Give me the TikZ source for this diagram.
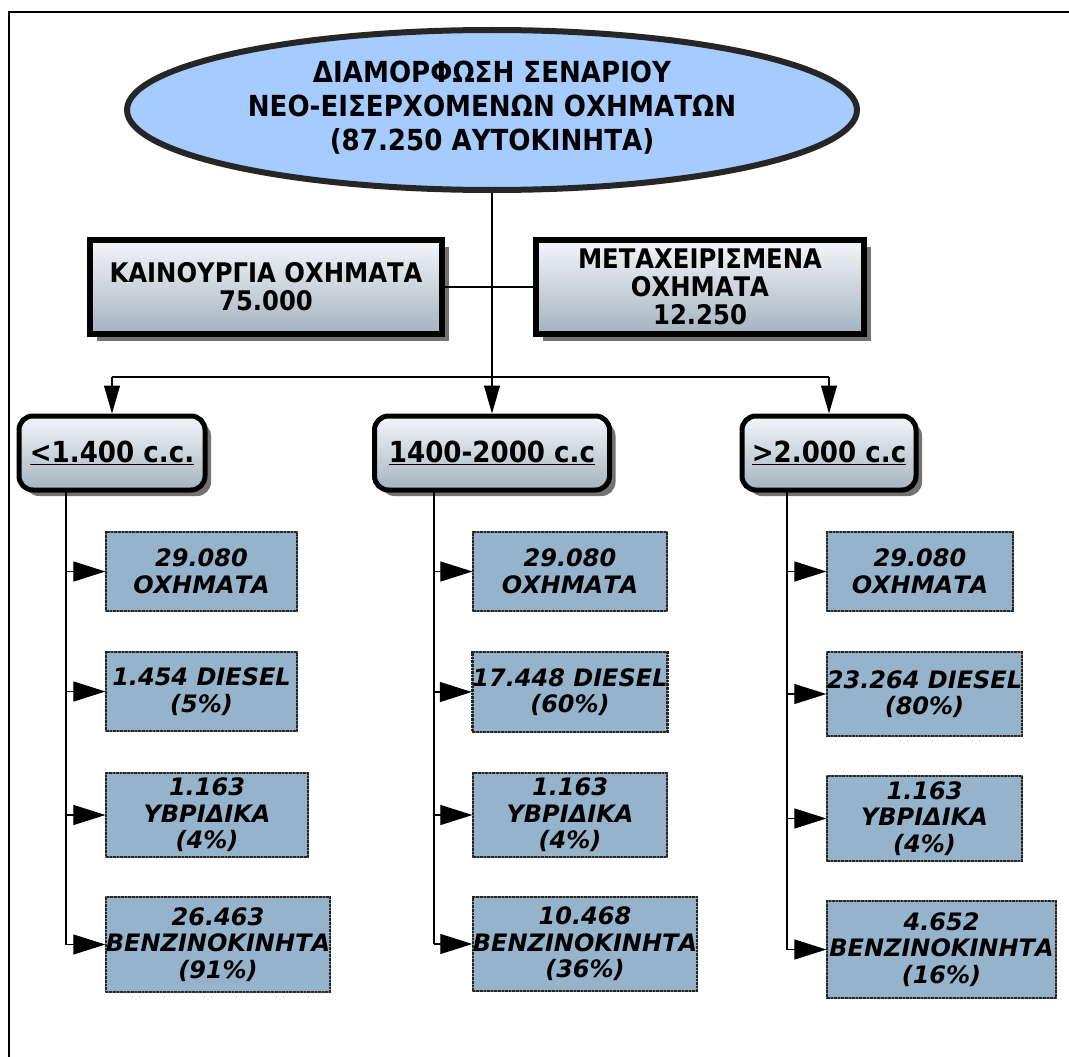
\documentclass[tikz,border=0pt]{standalone}
\usepackage{fontspec}
\setmainfont{DejaVu Sans}
\newfontfamily\tah[FakeStretch=0.9]{DejaVu Sans}
\usetikzlibrary{shapes.geometric,arrows.meta,shadows}
\definecolor{ellblue}{HTML}{A6CCFF}
\definecolor{boxblue}{HTML}{95B4CC}
\definecolor{gtop}{HTML}{F4F6F9}
\definecolor{gbot}{HTML}{A4B3BF}
\begin{document}
\begin{tikzpicture}[x=1pt,y=-1pt,
  ellnode/.style={ellipse, fill=ellblue, draw=black!85, line width=6pt, inner sep=0pt,
    minimum width=730pt, minimum height=160pt, align=center,
    font=\tah\bfseries\fontsize{29}{34}\selectfont},
  topbox/.style={rectangle, draw=black, line width=6pt, top color=gtop, bottom color=gbot,
    inner sep=0pt, align=center, font=\tah\bfseries\fontsize{27}{28}\selectfont,
    drop shadow={shadow xshift=7pt, shadow yshift=-7pt, opacity=0.55, fill=black}},
  catbox/.style={rectangle, rounded corners=14pt, draw=black, line width=5pt,
    top color=gtop, bottom color=gbot, inner sep=0pt, minimum height=74pt,
    font=\tah\bfseries\fontsize{29}{32}\selectfont,
    drop shadow={shadow xshift=6pt, shadow yshift=-6pt, opacity=0.55, fill=black}},
  smallbox/.style={rectangle, fill=boxblue, draw=black!55, line width=1.2pt, inner sep=0pt,
    align=center, font=\bfseries\itshape\fontsize{24}{26.5}\selectfont,
    postaction={draw=black!85, densely dotted, line width=2.6pt}},
  conn/.style={draw=black, line width=1.1pt},
  darr/.style={conn, -{Triangle[length=28pt,width=16pt]}},
  harr/.style={conn, -{Triangle[length=32pt,width=20pt]}},
  frame/.style={draw=black, line width=1.6pt}
]
\useasboundingbox (0,0) rectangle (1069,1057);
% frame
\coordinate (ftl) at (9,12);
\coordinate (fbl) at (9,1057);
\coordinate (ftr) at (1069,12);
\draw[frame] (fbl) -- (ftl) -- (ftr);

% root
\node[ellnode] (root) at (492,110) {\raisebox{-3pt}{\begin{tabular}{@{}c@{}}ΔΙΑΜΟΡΦΩΣΗ ΣΕΝΑΡΙΟΥ\\[0pt]ΝΕΟ-ΕΙΣΕΡΧΟΜΕΝΩΝ ΟΧΗΜΑΤΩΝ\\(87.250 ΑΥΤΟΚΙΝΗΤΑ)\end{tabular}}};

% second level
\node[topbox, minimum width=352pt, minimum height=94pt] (new) at (266,287) {ΚΑΙΝΟΥΡΓΙΑ ΟΧΗΜΑΤΑ\\75.000};
\node[topbox, minimum width=328pt, minimum height=94pt] (used) at (700,287) {ΜΕΤΑΧΕΙΡΙΣΜΕΝΑ\\ΟΧΗΜΑΤΑ\\12.250};

% categories
\node[catbox, minimum width=186pt] (c1) at (112,453) {\underline{<1.400 c.c.}};
\node[catbox, minimum width=235pt] (c2) at (492,453) {\underline{1400-2000 c.c}};
\node[catbox, minimum width=174pt] (c3) at (829,453) {\underline{>2.000 c.c}};

% connectors top
\coordinate (j) at (492,377);
\draw[conn] (new.east) -- (used.west);
\draw[darr] (root.south) -- (c2.north);
\draw[conn] (c1.north |- j) -- (c3.north |- j);
\draw[darr] (c1.north |- j) -- (c1.north);
\draw[darr] (c3.north |- j) -- (c3.north);

% column 1
\node[smallbox, minimum width=191pt, minimum height=79pt] (b11) at (201.5,571.5) {29.080\\ΟΧΗΜΑΤΑ};
\node[smallbox, minimum width=191pt, minimum height=79pt] (b12) at (201.5,691.5) {1.454 DIESEL\\(5\%)};
\node[smallbox, minimum width=202pt, minimum height=84pt] (b13) at (207,815) {1.163\\ΥΒΡΙΔΙΚΑ\\(4\%)};
\node[smallbox, minimum width=224pt, minimum height=95pt] (b14) at (218,944.5) {26.463\\ΒΕΝΖΙΝΟΚΙΝΗΤΑ\\(91\%)};
% column 2
\node[smallbox, minimum width=194pt, minimum height=79pt] (b21) at (570,571.5) {29.080\\ΟΧΗΜΑΤΑ};
\node[smallbox, minimum width=194pt, minimum height=80pt] (b22) at (570,692) {17.448 DIESEL\\(60\%)};
\node[smallbox, minimum width=194pt, minimum height=84pt] (b23) at (570,815) {1.163\\ΥΒΡΙΔΙΚΑ\\(4\%)};
\node[smallbox, minimum width=224pt, minimum height=94pt] (b24) at (585,944) {10.468\\ΒΕΝΖΙΝΟΚΙΝΗΤΑ\\(36\%)};
% column 3
\node[smallbox, minimum width=186pt, minimum height=79pt] (b31) at (920,571.5) {29.080\\ΟΧΗΜΑΤΑ};
\node[smallbox, minimum width=195pt, minimum height=84pt] (b32) at (924.5,694) {23.264 DIESEL\\(80\%)};
\node[smallbox, minimum width=195pt, minimum height=85pt] (b33) at (924.5,818.5) {1.163\\ΥΒΡΙΔΙΚΑ\\(4\%)};
\node[smallbox, minimum width=229pt, minimum height=97pt] (b34) at (941.5,949.5) {4.652\\ΒΕΝΖΙΝΟΚΙΝΗΤΑ\\(16\%)};

% column connectors
\coordinate (s1) at (66,492);
\coordinate (s2) at (434,492);
\coordinate (s3) at (787,492);
\draw[conn] (s1) -- (s1 |- b14.west);
\draw[conn] (s2) -- (s2 |- b24.west);
\draw[conn] (s3) -- (s3 |- b34.west);
\foreach \c in {1,2,3}{
  \foreach \r in {1,2,3,4}{
    \draw[harr] (s\c |- b\c\r.west) -- (b\c\r.west);
  }
}
\end{tikzpicture}
\end{document}
